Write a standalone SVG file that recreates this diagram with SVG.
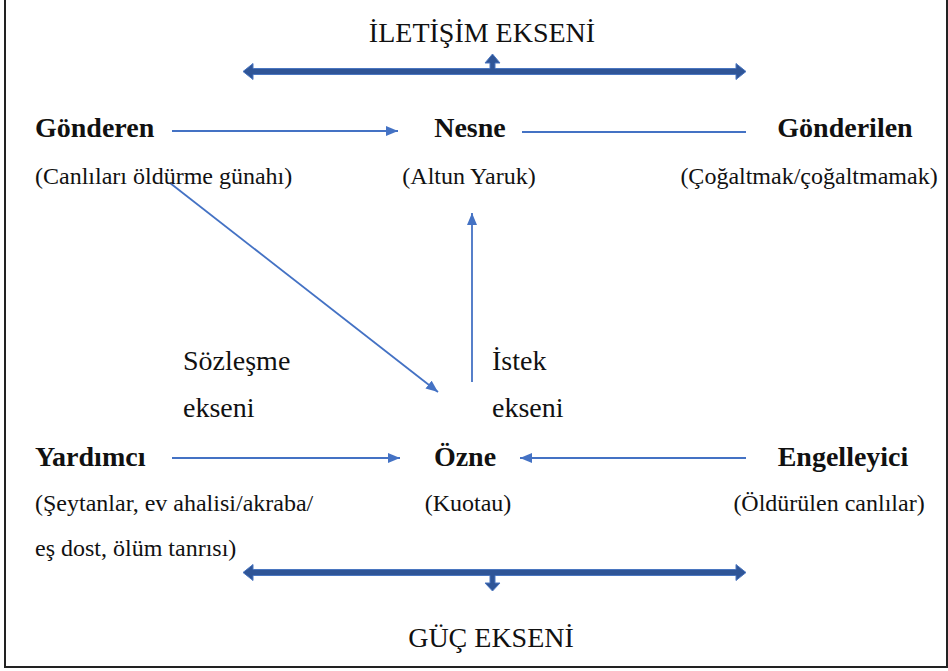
<svg xmlns="http://www.w3.org/2000/svg" width="948" height="671" viewBox="0 0 948 671">
<style>
text{font-family:"Liberation Serif","Times New Roman",serif;fill:#111}
.b{font-weight:bold;font-size:28px}
.n{font-size:24px}
.l{font-size:28px}
.c{stroke:#4472C4;stroke-width:1.8;fill:none}
.ax{fill:#2F5597;stroke:#4A76C0;stroke-width:1}
</style>
<defs>
<marker id="ah" viewBox="0 0 12 10" refX="12" refY="5" markerWidth="12" markerHeight="10" markerUnits="userSpaceOnUse" orient="auto">
<path d="M0,0 L12,5 L0,10 Z" fill="#4472C4"/>
</marker>
</defs>
<rect width="948" height="671" fill="#fff"/>
<path d="M5,0 V667 H947 V0" fill="none" stroke="#222" stroke-width="2"/>

<g id="axes">
<path class="ax" d="M243,71.5 L253,63.5 L253,68.5 L490,68.5 L490,63 L485,63 L492.5,54 L500,63 L495,63 L495,68.5 L736,68.5 L736,63.5 L746,71.5 L736,79.5 L736,74.5 L253,74.5 L253,79.5 Z"/>
<path class="ax" d="M243,572.5 L253,564.5 L253,569.5 L736,569.5 L736,564.5 L746,572.5 L736,580.5 L736,575.5 L495,575.5 L495,583 L500,583 L492.5,591 L485,583 L490,583 L490,575.5 L253,575.5 L253,580.5 Z"/>
<text class="l" x="482" y="42" text-anchor="middle">İLETİŞİM EKSENİ</text>
<text class="l" x="491" y="647" text-anchor="middle">GÜÇ EKSENİ</text>
</g>

<g id="connectors">
<path class="c" d="M172,131 L398,131" marker-end="url(#ah)"/>
<path class="c" d="M522,132 L746,132"/>
<path class="c" d="M170,183 L438,392" marker-end="url(#ah)"/>
<path class="c" d="M472,382 L472,213" marker-end="url(#ah)"/>
<path class="c" d="M172,458 L400,458" marker-end="url(#ah)"/>
<path class="c" d="M746,458 L520,458" marker-end="url(#ah)"/>
</g>

<g id="gonderen">
<text class="b" x="35" y="137">Gönderen</text>
<text class="n" x="35" y="184">(Canlıları öldürme günahı)</text>
</g>
<g id="nesne">
<text class="b" x="470" y="137" text-anchor="middle">Nesne</text>
<text class="n" x="469" y="184" text-anchor="middle">(Altun Yaruk)</text>
</g>
<g id="gonderilen">
<text class="b" x="845" y="137" text-anchor="middle">Gönderilen</text>
<text class="n" x="809" y="184" text-anchor="middle">(Çoğaltmak/çoğaltmamak)</text>
</g>
<g id="yardimci">
<text class="b" x="35" y="466">Yardımcı</text>
<text class="n" x="35" y="511">(Şeytanlar, ev ahalisi/akraba/</text>
<text class="n" x="35" y="556">eş dost, ölüm tanrısı)</text>
</g>
<g id="ozne">
<text class="b" x="465" y="466" text-anchor="middle">Özne</text>
<text class="n" x="468" y="511" text-anchor="middle">(Kuotau)</text>
</g>
<g id="engelleyici">
<text class="b" x="843" y="466" text-anchor="middle">Engelleyici</text>
<text class="n" x="829" y="511" text-anchor="middle">(Öldürülen canlılar)</text>
</g>
<g id="sozlesme">
<text class="l" x="183" y="370">Sözleşme</text>
<text class="l" x="183" y="417">ekseni</text>
</g>
<g id="istek">
<text class="l" x="492" y="370">İstek</text>
<text class="l" x="492" y="417">ekseni</text>
</g>
</svg>
